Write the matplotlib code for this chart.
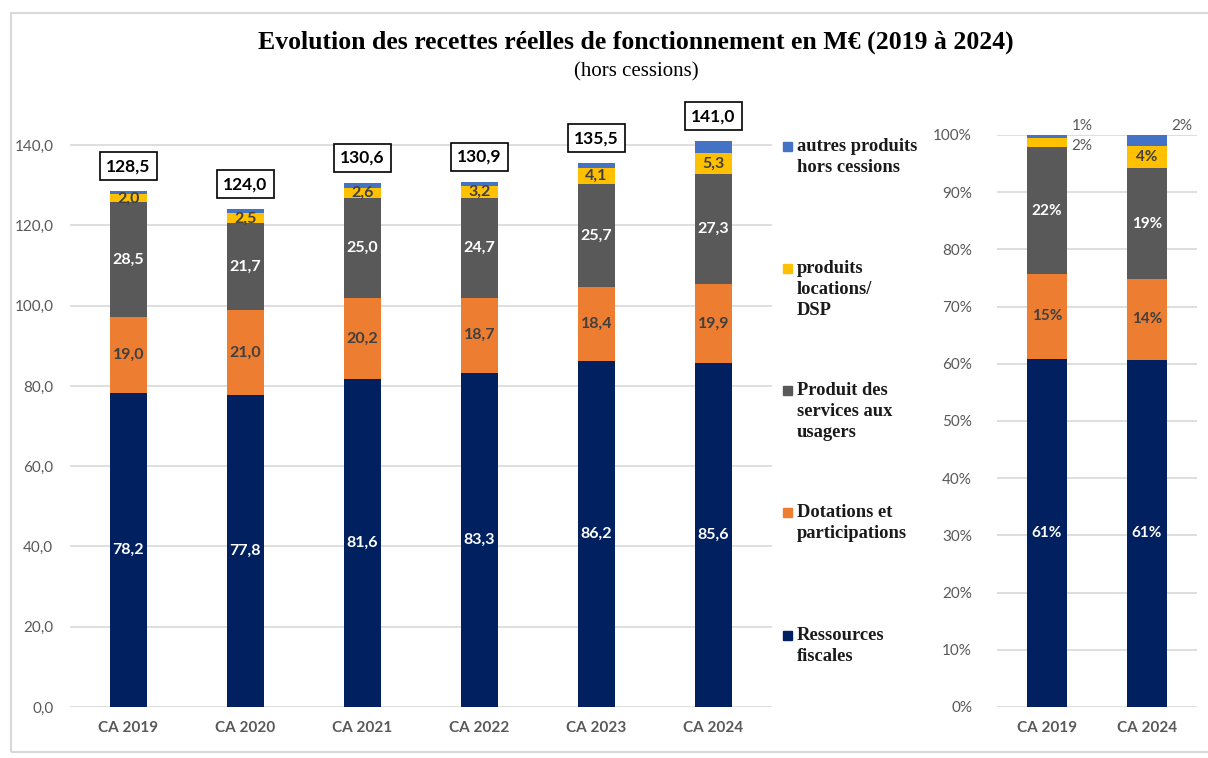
import numpy as np
import matplotlib
matplotlib.use("Agg")
import matplotlib.pyplot as plt
from matplotlib.patches import Rectangle

# Data (M€)
years = ["CA 2019", "CA 2020", "CA 2021", "CA 2022", "CA 2023", "CA 2024"]
fiscales = [78.2, 77.8, 81.6, 83.3, 86.2, 85.6]
dotations = [19.0, 21.0, 20.2, 18.7, 18.4, 19.9]
services = [28.5, 21.7, 25.0, 24.7, 25.7, 27.3]
locations = [2.0, 2.5, 2.6, 3.2, 4.1, 5.3]
autres = [0.8, 1.0, 1.2, 1.0, 1.1, 2.9]
totals = [128.5, 124.0, 130.6, 130.9, 135.5, 141.0]

# Shares (%) for the right chart
share_years = ["CA 2019", "CA 2024"]
share_fiscales = [60.9, 60.7]
share_dotations = [14.8, 14.1]
share_services = [22.2, 19.4]
share_locations = [1.6, 3.8]
share_autres = [0.6, 2.1]
share_labels = [["61%", "15%", "22%", "2%", "1%"],
                ["61%", "14%", "19%", "4%", "2%"]]

series_names = ["Ressources\nfiscales", "Dotations et\nparticipations",
                "Produit des\nservices aux\nusagers", "produits\nlocations/\nDSP",
                "autres produits\nhors cessions"]
colors = ["#002060", "#ED7D31", "#595959", "#FFC000", "#4472C4"]
label_colors = ["white", "#404040", "white", "#404040", None]

SANS = "Lato"
SERIF = "Liberation Serif"
GREY = "#595959"

fig = plt.figure(figsize=(12.08, 7.58), dpi=100)
W, H = 1208, 758

# outer frame
fig.patches.append(Rectangle((11 / W, 6 / H), 1.2, (745 - 6) / H, transform=fig.transFigure,
                             fill=False, edgecolor="#d9d9d9", linewidth=1.5))

fig.text(636 / W, 1 - 42 / H, "Evolution des recettes réelles de fonctionnement en M€ (2019 à 2024)",
         ha="center", va="center", fontsize=18.5, fontweight="bold", family=SERIF)
fig.text(636 / W, 1 - 72 / H, "(hors cessions)", ha="center", va="center",
         fontsize=15, family=SERIF)


def style_axes(ax):
    for s in ax.spines.values():
        s.set_visible(False)
    ax.grid(axis="y", color="#d9d9d9", linewidth=1.2)
    ax.set_axisbelow(True)
    ax.tick_params(axis="both", length=0, colors=GREY, labelsize=11)
    for lab in ax.get_yticklabels():
        lab.set_family(SANS)
    for lab in ax.get_xticklabels():
        lab.set_family(SANS)
        lab.set_fontweight("bold")


# ---- left chart
axl = fig.add_axes([70 / W, 51 / H, 702 / W, 582 / H])
x = np.arange(len(years))
stack = [fiscales, dotations, services, locations, autres]
bottom = np.zeros(len(years))
for vals, c, lc in zip(stack, colors, label_colors):
    vals = np.array(vals)
    axl.bar(x, vals, 0.316, bottom=bottom, color=c, zorder=2)
    if lc:
        for xi, b, v in zip(x, bottom, vals):
            axl.text(xi, b + v / 2, f"{v:.1f}".replace(".", ","), ha="center", va="center",
                     color=lc, fontsize=11.5, fontweight="bold", family=SANS, zorder=3)
    bottom += vals

for xi, b, t in zip(x, bottom, totals):
    axl.annotate(f"{t:.1f}".replace(".", ","), (xi, b), xytext=(0, 18), textcoords="offset points",
                 ha="center", va="center", fontsize=12.5, fontweight="bold", family=SANS,
                 bbox=dict(boxstyle="square,pad=0.35", fc="white", ec="black", lw=1.2),
                 annotation_clip=False)

axl.set_xlim(-0.5, len(years) - 0.5)
axl.set_ylim(0, 145)
axl.set_yticks(np.arange(0, 141, 20))
axl.set_yticklabels([f"{v:.1f}".replace(".", ",") for v in np.arange(0, 141, 20)])
axl.set_xticks(x)
axl.set_xticklabels(years)
axl.tick_params(axis="x", pad=10)
axl.tick_params(axis="y", pad=12)
style_axes(axl)

# legend
leg_y = [146, 268, 390, 512, 635]
for name, c, yy in zip(series_names[::-1], colors[::-1], leg_y):
    fig.patches.append(Rectangle((783 / W, 1 - (yy + 5) / H), 9 / W, 9 / H,
                                 transform=fig.transFigure, color=c))
    fig.text(797 / W, 1 - (yy - 8) / H, name, ha="left", va="top", fontsize=13.3,
             fontweight="bold", family=SERIF, linespacing=1.32, color="#1a1a1a")

# ---- right chart
axr = fig.add_axes([997 / W, 51 / H, 200 / W, 572 / H])
xr = np.arange(len(share_years))
sstack = [share_fiscales, share_dotations, share_services, share_locations, share_autres]
sbottom = np.zeros(len(share_years))
for k, (vals, c, lc) in enumerate(zip(sstack, colors, label_colors)):
    vals = np.array(vals) / 100
    axr.bar(xr, vals, 0.4, bottom=sbottom, color=c, zorder=2)
    for i, (xi, b, v) in enumerate(zip(xr, sbottom, vals)):
        lab = share_labels[i][k]
        if v < 0.025 and k >= 3:
            # small shares are labelled outside, to the right
            ypos = b + 0.001 if k == 3 else 1.015
            axr.text(xi + 0.35, ypos, lab, ha="center", va="center", color=GREY,
                     fontsize=11, family=SANS, clip_on=False)
        else:
            axr.text(xi, b + v / 2, lab, ha="center", va="center", color=lc or "white",
                     fontsize=11, fontweight="bold", family=SANS, zorder=3)
    sbottom += vals

axr.set_xlim(-0.5, 1.5)
axr.set_ylim(0, 1)
axr.set_yticks(np.arange(0, 1.01, 0.1))
axr.set_yticklabels([f"{int(round(v * 100))}%" for v in np.arange(0, 1.01, 0.1)])
axr.set_xticks(xr)
axr.set_xticklabels(share_years)
axr.tick_params(axis="x", pad=10)
axr.tick_params(axis="y", pad=18)
style_axes(axr)

fig.savefig("out.png", dpi=100)
